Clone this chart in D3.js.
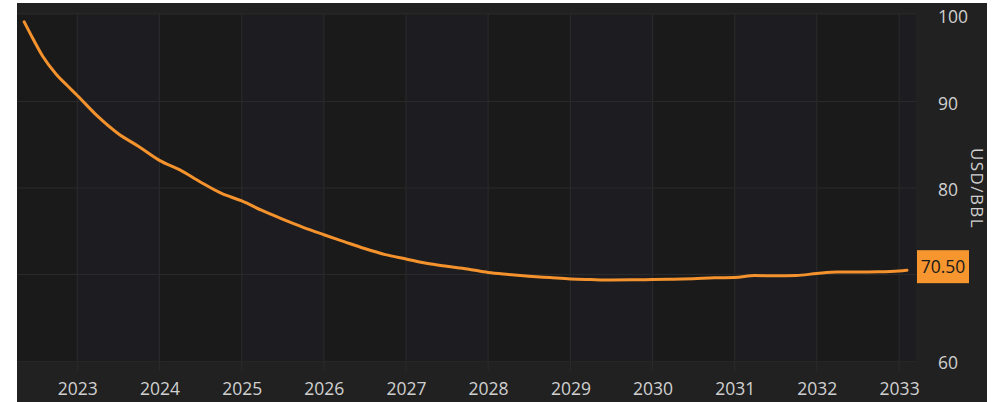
<!DOCTYPE html>
<html>
<head>
<meta charset="utf-8">
<script src="https://cdn.jsdelivr.net/npm/d3@7"></script>
<style>
  html, body { margin: 0; padding: 0; background: #ffffff; }
  svg { display: block; }
  text { font-family: "Open Sans", "Noto Sans", sans-serif; }
</style>
</head>
<body>
<svg id="chart" width="997" height="402"></svg>
<script>
// ---- data ----
const dates = [
  "2022-05-10","2022-06-15","2022-08-01","2022-10-01","2022-11-15",
  "2023-01-01","2023-04-01","2023-07-01","2023-10-01",
  "2024-01-01","2024-04-01","2024-07-01","2024-10-01",
  "2025-01-01","2025-04-01","2025-07-01","2025-10-01",
  "2026-01-01","2026-04-01","2026-07-01","2026-10-01",
  "2027-01-01","2027-04-01","2027-07-01","2027-10-01",
  "2028-01-01","2028-04-01","2028-07-01","2028-10-01",
  "2029-01-01","2029-04-01","2029-07-01","2029-10-01",
  "2030-01-01","2030-04-01","2030-07-01","2030-10-01",
  "2031-01-01","2031-04-01","2031-07-01","2031-10-01",
  "2032-01-01","2032-04-01","2032-07-01","2032-10-01",
  "2033-01-01","2033-02-05"
];
const prices = [
  99.2, 97.4, 95.2, 93.1, 91.9,
  90.7, 88.3, 86.3, 84.8,
  83.2, 82.1, 80.7, 79.4,
  78.5, 77.4, 76.4, 75.45,
  74.6, 73.8, 73.0, 72.3,
  71.8, 71.3, 70.95, 70.64,
  70.23, 70.0, 69.8, 69.64,
  69.48, 69.41, 69.36, 69.38,
  69.43, 69.44, 69.5, 69.62,
  69.65, 69.88, 69.85, 69.88,
  70.12, 70.29, 70.29, 70.31,
  70.4, 70.5
];
const yearTicks = [2023, 2024, 2025, 2026, 2027, 2028, 2029, 2030, 2031, 2032, 2033];
const yTicks = [60, 70, 80, 90, 100];
const yLabel = "USD/BBL";
const lastLabel = "70.50";

// ---- layout ----
const svg = d3.select("#chart");
const frame = { x0: 17, y0: 3, x1: 987, y1: 402 };
const plot = { left: 17, right: 916, top: 15, bottom: 361 };
const textColor = "#d0d0d0";

const parse = d3.timeParse("%Y-%m-%d");
const data = dates.map((d, i) => ({ date: parse(d), value: prices[i] }));

const x = d3.scaleTime()
  .domain([new Date(2022, 3, 8), new Date(2033, 2, 17)])
  .range([plot.left, plot.right]);
const y = d3.scaleLinear().domain([60, 100]).range([plot.bottom, plot.top]);

// frame background
svg.append("rect")
  .attr("x", frame.x0).attr("y", frame.y0)
  .attr("width", frame.x1 - frame.x0).attr("height", frame.y1 - frame.y0)
  .attr("fill", "#212121");

// bands
const tickDates = yearTicks.map(yr => new Date(yr, 0, 1));
const edges = [x.domain()[0], ...tickDates, x.domain()[1]];
const bands = d3.pairs(edges).map(([a, b]) => ({ a, b, yr: a.getFullYear() }));
svg.append("g").selectAll("rect").data(bands).join("rect")
  .attr("x", d => x(d.a))
  .attr("y", plot.top)
  .attr("width", d => x(d.b) - x(d.a))
  .attr("height", plot.bottom - plot.top)
  .attr("fill", d => (d.yr % 2 === 1) ? "#1d1d21" : "#1a1a1a");

// top strip line
svg.append("line")
  .attr("x1", plot.left).attr("x2", plot.right)
  .attr("y1", plot.top - 1.5).attr("y2", plot.top - 1.5)
  .attr("stroke", "#262626").attr("stroke-width", 1);

// horizontal gridlines
svg.append("g").selectAll("line").data(yTicks.filter(v => v > 60 && v < 100)).join("line")
  .attr("x1", plot.left).attr("x2", plot.right)
  .attr("y1", d => y(d)).attr("y2", d => y(d))
  .attr("stroke", "#2a2a2b").attr("stroke-width", 1);
svg.append("line")
  .attr("x1", plot.left).attr("x2", plot.right)
  .attr("y1", plot.bottom + 0.5).attr("y2", plot.bottom + 0.5)
  .attr("stroke", "#262626").attr("stroke-width", 1);

// vertical gridlines (with small ticks below)
svg.append("g").selectAll("line").data(tickDates).join("line")
  .attr("x1", d => x(d)).attr("x2", d => x(d))
  .attr("y1", plot.top - 2).attr("y2", plot.bottom + 10)
  .attr("stroke", "#29292b").attr("stroke-width", 1.2);

// x axis labels
const xAxis = d3.axisBottom(x)
  .tickValues(tickDates)
  .tickFormat(d3.timeFormat("%Y"))
  .tickSize(0).tickPadding(0);
const gx = svg.append("g")
  .attr("transform", `translate(0, ${plot.bottom})`)
  .call(xAxis);
gx.select(".domain").remove();
gx.selectAll("text")
  .attr("y", 34).attr("dy", null)
  .attr("fill", textColor).attr("font-size", 17.5)
  .attr("font-family", "'Open Sans', 'Noto Sans', sans-serif");

// y axis labels (right)
const yAxis = d3.axisRight(y).tickValues(yTicks.filter(v => v !== 70)).tickSize(0).tickPadding(0);
const gy = svg.append("g")
  .attr("transform", `translate(${plot.right + 22}, 0)`)
  .call(yAxis);
gy.select(".domain").remove();
gy.selectAll("text")
  .attr("x", 0).attr("dy", "0.45em")
  .attr("text-anchor", "start")
  .attr("fill", textColor).attr("font-size", 17.5)
  .attr("font-family", "'Open Sans', 'Noto Sans', sans-serif");

// y axis title
svg.append("text")
  .attr("transform", `translate(971, ${(plot.top + plot.bottom) / 2 + 0.5}) rotate(90)`)
  .attr("text-anchor", "middle")
  .attr("fill", textColor).attr("font-size", 17)
  .attr("letter-spacing", 1.4)
  .text(yLabel);

// line
const line = d3.line().x(d => x(d.date)).y(d => y(d.value)).curve(d3.curveMonotoneX);
svg.append("path")
  .datum(data)
  .attr("fill", "none")
  .attr("stroke", "#f4922d")
  .attr("stroke-width", 3)
  .attr("stroke-linecap", "round")
  .attr("stroke-linejoin", "round")
  .attr("d", line);

// last value label
const last = data[data.length - 1];
const ly = y(last.value) - 3.5;
const lg = svg.append("g").attr("transform", `translate(${plot.right + 1}, ${ly})`);
lg.append("rect")
  .attr("x", 0).attr("y", -16.5).attr("width", 52).attr("height", 33)
  .attr("fill", "#f7962f");
lg.append("text")
  .attr("x", 26).attr("y", 0).attr("dy", "0.36em")
  .attr("text-anchor", "middle")
  .attr("fill", "#1a1a1a").attr("font-size", 17.5)
  .text(lastLabel);
</script>
</body>
</html>
